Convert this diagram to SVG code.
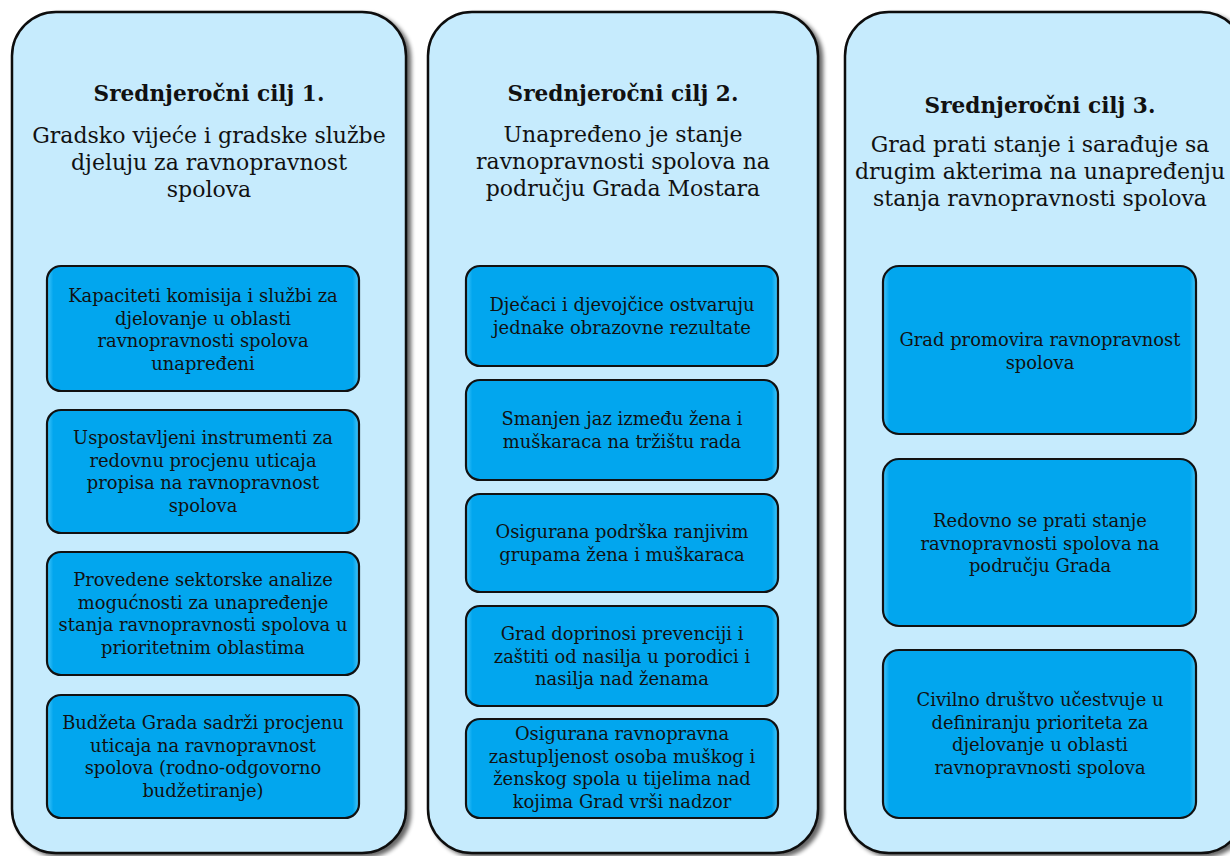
<svg xmlns="http://www.w3.org/2000/svg" width="1230" height="856" viewBox="0 0 1230 856">
<defs>
<filter id="sh" x="-5%" y="-5%" width="115%" height="115%">
<feGaussianBlur in="SourceAlpha" stdDeviation="2"/>
<feOffset dx="4" dy="3" result="b"/>
<feComponentTransfer><feFuncA type="linear" slope="0.6"/></feComponentTransfer>
<feMerge><feMergeNode/><feMergeNode in="SourceGraphic"/></feMerge>
</filter>
<linearGradient id="ib" x1="0" y1="0" x2="1" y2="0">
<stop offset="0" stop-color="#45C6FA"/>
<stop offset="0.02" stop-color="#02A6EE"/>
<stop offset="0.98" stop-color="#02A6EE"/>
<stop offset="1" stop-color="#45C6FA"/>
</linearGradient>
</defs>
<style>
.col{fill:#C6EBFD;stroke:#111;stroke-width:2.5;filter:url(#sh)}
.box{fill:url(#ib);stroke:#111;stroke-width:2.2}
text{font-family:"DejaVu Serif","Liberation Serif",serif;fill:#111;text-anchor:middle}
.t{font-size:21.6px;font-weight:bold}
.s{font-size:22px}
.b{font-size:17.9px}
</style>
<rect width="1230" height="856" fill="#fff"/>
<g id="col1">
<rect class="col" x="12" y="12" width="394" height="841" rx="44" ry="44"/>
<text class="t" x="209" y="101">Srednjeročni cilj 1.</text>
<text class="s" x="209" y="143">Gradsko vijeće i gradske službe</text>
<text class="s" x="209" y="170">djeluju za ravnopravnost</text>
<text class="s" x="209" y="197">spolova</text>
</g>
<g id="col2">
<rect class="col" x="428" y="12" width="390" height="841" rx="44" ry="44"/>
<text class="t" x="623" y="101">Srednjeročni cilj 2.</text>
<text class="s" x="623" y="142">Unapređeno je stanje</text>
<text class="s" x="623" y="169">ravnopravnosti spolova na</text>
<text class="s" x="623" y="196">području Grada Mostara</text>
</g>
<g id="col3">
<rect class="col" x="845" y="12" width="400" height="841" rx="44" ry="44"/>
<text class="t" x="1040" y="113">Srednjeročni cilj 3.</text>
<text class="s" x="1040" y="152">Grad prati stanje i sarađuje sa</text>
<text class="s" x="1040" y="179">drugim akterima na unapređenju</text>
<text class="s" x="1040" y="206">stanja ravnopravnosti spolova</text>
</g>
<g id="c1b1">
<rect class="box" x="47" y="266" width="312" height="125" rx="14"/>
<text class="b" x="203" y="302">Kapaciteti komisija i službi za</text>
<text class="b" x="203" y="324.5">djelovanje u oblasti</text>
<text class="b" x="203" y="347">ravnopravnosti spolova</text>
<text class="b" x="203" y="369.5">unapređeni</text>
</g>
<g id="c1b2">
<rect class="box" x="47" y="410" width="312" height="123" rx="14"/>
<text class="b" x="203" y="444">Uspostavljeni instrumenti za</text>
<text class="b" x="203" y="466.5">redovnu procjenu uticaja</text>
<text class="b" x="203" y="489">propisa na ravnopravnost</text>
<text class="b" x="203" y="511.5">spolova</text>
</g>
<g id="c1b3">
<rect class="box" x="47" y="552" width="312" height="123" rx="14"/>
<text class="b" x="203" y="586">Provedene sektorske analize</text>
<text class="b" x="203" y="608.5">mogućnosti za unapređenje</text>
<text class="b" x="203" y="631">stanja ravnopravnosti spolova u</text>
<text class="b" x="203" y="653.5">prioritetnim oblastima</text>
</g>
<g id="c1b4">
<rect class="box" x="47" y="695" width="312" height="123" rx="14"/>
<text class="b" x="203" y="729">Budžeta Grada sadrži procjenu</text>
<text class="b" x="203" y="751.5">uticaja na ravnopravnost</text>
<text class="b" x="203" y="774">spolova (rodno-odgovorno</text>
<text class="b" x="203" y="796.5">budžetiranje)</text>
</g>
<g id="c2b1">
<rect class="box" x="466" y="266" width="312" height="100" rx="14"/>
<text class="b" x="622" y="311">Dječaci i djevojčice ostvaruju</text>
<text class="b" x="622" y="333.5">jednake obrazovne rezultate</text>
</g>
<g id="c2b2">
<rect class="box" x="466" y="380" width="312" height="100" rx="14"/>
<text class="b" x="622" y="425">Smanjen jaz između žena i</text>
<text class="b" x="622" y="447.5">muškaraca na tržištu rada</text>
</g>
<g id="c2b3">
<rect class="box" x="466" y="494" width="312" height="98" rx="14"/>
<text class="b" x="622" y="538">Osigurana podrška ranjivim</text>
<text class="b" x="622" y="560.5">grupama žena i muškaraca</text>
</g>
<g id="c2b4">
<rect class="box" x="466" y="606" width="312" height="100" rx="14"/>
<text class="b" x="622" y="640">Grad doprinosi prevenciji i</text>
<text class="b" x="622" y="662.5">zaštiti od nasilja u porodici i</text>
<text class="b" x="622" y="685">nasilja nad ženama</text>
</g>
<g id="c2b5">
<rect class="box" x="466" y="719" width="312" height="99" rx="14"/>
<text class="b" x="622" y="740">Osigurana ravnopravna</text>
<text class="b" x="622" y="762.5">zastupljenost osoba muškog i</text>
<text class="b" x="622" y="785">ženskog spola u tijelima nad</text>
<text class="b" x="622" y="807.5">kojima Grad vrši nadzor</text>
</g>
<g id="c3b1">
<rect class="box" x="883" y="266" width="313" height="168" rx="16"/>
<text class="b" x="1040" y="346">Grad promovira ravnopravnost</text>
<text class="b" x="1040" y="368.5">spolova</text>
</g>
<g id="c3b2">
<rect class="box" x="883" y="459" width="313" height="167" rx="16"/>
<text class="b" x="1040" y="527">Redovno se prati stanje</text>
<text class="b" x="1040" y="549.5">ravnopravnosti spolova na</text>
<text class="b" x="1040" y="572">području Grada</text>
</g>
<g id="c3b3">
<rect class="box" x="883" y="650" width="313" height="168" rx="16"/>
<text class="b" x="1040" y="706">Civilno društvo učestvuje u</text>
<text class="b" x="1040" y="728.5">definiranju prioriteta za</text>
<text class="b" x="1040" y="751">djelovanje u oblasti</text>
<text class="b" x="1040" y="773.5">ravnopravnosti spolova</text>
</g>
<g id="connectors"/>
</svg>
